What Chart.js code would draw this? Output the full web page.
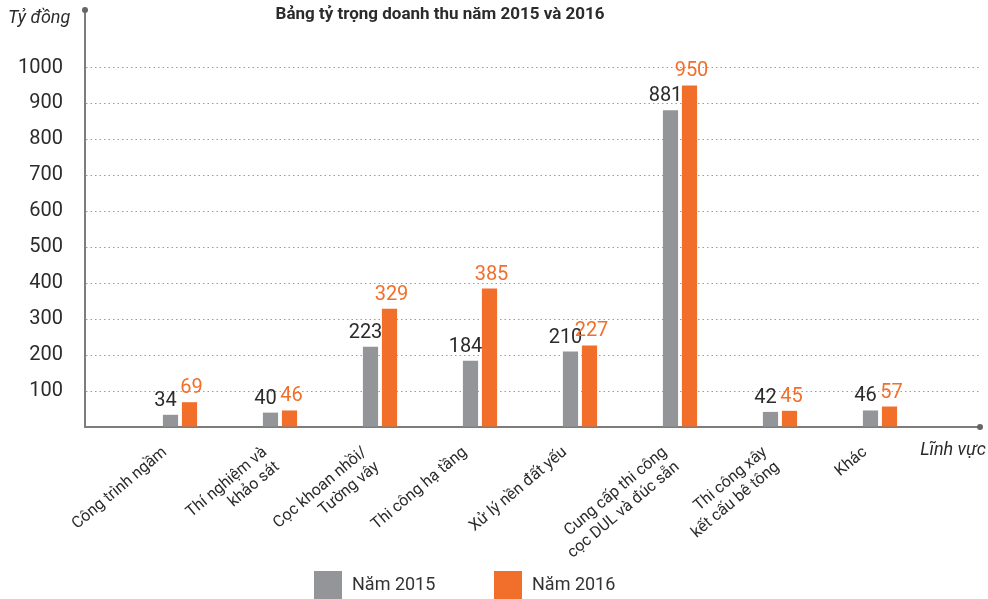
<!DOCTYPE html>
<html>
<head>
<meta charset="utf-8">
<script src="https://cdn.jsdelivr.net/npm/chart.js@4.4.0/dist/chart.umd.min.js"></script>
<style>
html, body { margin: 0; padding: 0; background: #fff; }
#wrap { width: 988px; height: 599px; position: relative; }
</style>
</head>
<body>
<div id="wrap"><canvas id="myChart"></canvas></div>
<script>
let categories = [
    'Công trình ngầm',
    ['Thí nghiệm và', 'khảo sát'],
    ['Cọc khoan nhồi/', 'Tường vây'],
    'Thi công hạ tầng',
    'Xử lý nền đất yếu',
    ['Cung cấp thi công', 'cọc DUL và đúc sẵn'],
    ['Thi công xây', 'kết cấu bê tông'],
    'Khác'
];
let seriesNames = ['Năm 2015', 'Năm 2016'];
let values2015 = [34, 40, 223, 184, 210, 881, 42, 46];
let values2016 = [69, 46, 329, 385, 227, 950, 45, 57];

let grey = '#939598';
let orange = '#f26f2b';
let textDark = '#2b2b2b';
let axisGrey = '#7d7d7d';

function toPoints(values) {
    return values.map((v, i) => ({ x: i, y: v }));
}

// value labels above bars
let valueLabels = {
    id: 'valueLabels',
    afterDatasetsDraw(chart) {
        let ctx = chart.ctx;
        ctx.save();
        ctx.font = '20px Roboto';
        ctx.textAlign = 'center';
        ctx.textBaseline = 'bottom';
        chart.data.datasets.forEach((ds, i) => {
            chart.getDatasetMeta(i).data.forEach((bar, j) => {
                ctx.fillStyle = i === 0 ? textDark : orange;
                let dx = i === 0 ? -5 : 2;
                ctx.fillText(ds.data[j].y, bar.x + dx, bar.y - 4);
            });
        });
        ctx.restore();
    }
};

// axis end dots, axis titles, chart title, legend
let decorations = {
    id: 'decorations',
    afterDraw(chart) {
        let ctx = chart.ctx;
        let area = chart.chartArea;
        ctx.save();
        ctx.fillStyle = '#666';
        ctx.beginPath();
        ctx.arc(area.left, area.top, 3, 0, Math.PI * 2);
        ctx.fill();
        ctx.beginPath();
        ctx.arc(area.right, area.bottom, 3, 0, Math.PI * 2);
        ctx.fill();

        ctx.fillStyle = textDark;
        ctx.textBaseline = 'middle';
        ctx.font = 'italic 18px Roboto';
        ctx.textAlign = 'left';
        ctx.fillText('Tỷ đồng', 8, 18);
        ctx.textAlign = 'right';
        ctx.fillText('Lĩnh vực', 986, 450);

        ctx.font = 'bold 17px Roboto';
        ctx.textAlign = 'center';
        ctx.fillText('Bảng tỷ trọng doanh thu năm 2015 và 2016', 440, 15);

        ctx.font = '18px Roboto';
        ctx.textAlign = 'left';
        chart.data.datasets.forEach((ds, i) => {
            let x = 314 + i * 180;
            ctx.fillStyle = ds.backgroundColor;
            ctx.fillRect(x, 571, 28, 28);
            ctx.fillStyle = '#333';
            ctx.fillText(ds.label, x + 38, 585);
        });
        ctx.restore();
    }
};

let myChart = document.getElementById('myChart').getContext('2d');
let chart = new Chart(myChart, {
    type: 'bar',
    data: {
        datasets: [{
            label: seriesNames[0],
            data: toPoints(values2015),
            backgroundColor: grey
        }, {
            label: seriesNames[1],
            data: toPoints(values2016),
            backgroundColor: orange
        }]
    },
    options: {
        responsive: true,
        maintainAspectRatio: false,
        animation: false,
        categoryPercentage: 0.4,
        barPercentage: 0.8,
        layout: {
            padding: { top: 10, right: 8, left: 0, bottom: 0 }
        },
        plugins: {
            legend: { display: false },
            tooltip: { enabled: false }
        },
        scales: {
            x: {
                type: 'linear',
                offset: false,
                min: -0.95,
                max: 8,
                afterFit(scale) {
                    scale.height = 172;
                    scale.paddingLeft = 0;
                    scale.paddingRight = 0;
                },
                grid: { display: false },
                border: { display: true, color: axisGrey, width: 2 },
                ticks: {
                    stepSize: 1,
                    autoSkip: false,
                    minRotation: 40,
                    maxRotation: 40,
                    padding: 8,
                    labelOffset: -15,
                    color: textDark,
                    font: { family: 'Roboto', size: 16 },
                    callback: function(value) {
                        if (Number.isInteger(value) && value >= 0 && value < categories.length) {
                            return categories[value];
                        }
                        return '';
                    }
                }
            },
            y: {
                min: 0,
                max: 1160,
                afterFit(scale) {
                    scale.width = 85;
                    scale.paddingTop = 0;
                    scale.paddingBottom = 0;
                },
                border: { display: true, color: axisGrey, width: 2, dash: [1.5, 3] },
                grid: {
                    drawTicks: false,
                    lineWidth: 1,
                    color: function(c) {
                        let v = c.tick ? c.tick.value : 0;
                        return (v >= 100 && v <= 1000) ? '#9c9c9c' : 'rgba(0,0,0,0)';
                    }
                },
                ticks: {
                    stepSize: 100,
                    padding: 22,
                    color: textDark,
                    font: { family: 'Roboto', size: 20 },
                    callback: function(value) {
                        return (value >= 100 && value <= 1000) ? value : '';
                    }
                }
            }
        }
    },
    plugins: [valueLabels, decorations]
});
</script>
</body>
</html>
